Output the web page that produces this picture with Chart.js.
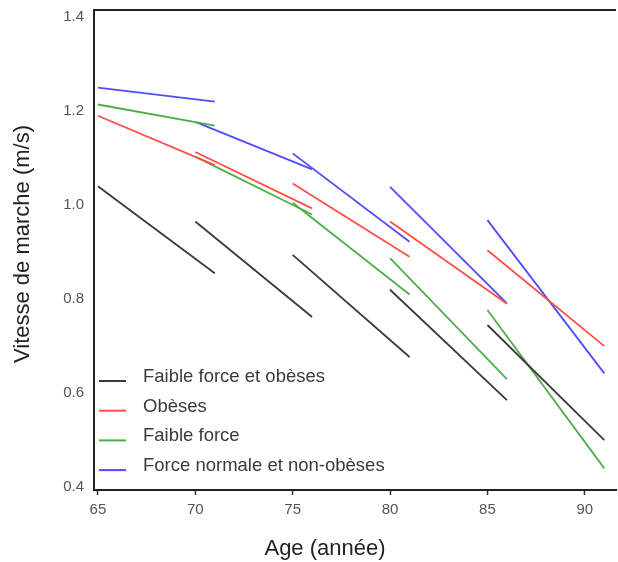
<!DOCTYPE html>
<html><head><meta charset="utf-8">
<script src="https://cdn.jsdelivr.net/npm/chart.js@4/dist/chart.umd.min.js"></script>
<style>html,body{margin:0;padding:0;background:#fff}#wrap{width:618px;height:562px}</style>
</head><body><div id="wrap"><canvas id="c" width="618" height="562"></canvas></div>
<script>
// Segment start / end ages
const startAges = [65, 70, 75, 80, 85];
const endAges = [71, 76, 81, 86, 91];
const seriesNames = ["Faible force et obèses", "Obèses", "Faible force", "Force normale et non-obèses"];
// Walking speed (m/s) at segment start / end
const faibleForceObesesStart = [1.04, 0.965, 0.894, 0.82, 0.745];
const faibleForceObesesEnd   = [0.855, 0.762, 0.677, 0.585, 0.50];
const obesesStart = [1.19, 1.113, 1.046, 0.965, 0.904];
const obesesEnd   = [1.085, 0.993, 0.89, 0.79, 0.70];
const faibleForceStart = [1.214, 1.103, 1.005, 0.887, 0.777];
const faibleForceEnd   = [1.169, 0.98, 0.81, 0.63, 0.44];
const normaleStart = [1.25, 1.177, 1.11, 1.039, 0.968];
const normaleEnd   = [1.22, 1.076, 0.922, 0.791, 0.642];
const xTicks = [65, 70, 75, 80, 85, 90];
const yTicks = [0.4, 0.6, 0.8, 1.0, 1.2, 1.4];
const xTitle = "Age (année)";
const yTitle = "Vitesse de marche (m/s)";

const colors = ["#3a3a3a", "#ff4f45", "#4fae4a", "#4d4dff"];
const series = [
  [faibleForceObesesStart, faibleForceObesesEnd],
  [obesesStart, obesesEnd],
  [faibleForceStart, faibleForceEnd],
  [normaleStart, normaleEnd]
];
const FONT = "'Liberation Sans', Arial, sans-serif";

const datasets = [];
series.forEach((s, si) => {
  startAges.forEach((a, i) => {
    datasets.push({
      label: seriesNames[si],
      data: [{x: a, y: s[0][i]}, {x: endAges[i], y: s[1][i]}],
      borderColor: colors[si],
      backgroundColor: colors[si],
      borderWidth: 1.8,
      pointRadius: 0,
      showLine: true,
      fill: false
    });
  });
});

const extras = {
  id: 'extras',
  afterDraw(chart) {
    const ctx = chart.ctx, ca = chart.chartArea;
    ctx.save();
    // top frame line
    ctx.strokeStyle = '#222'; ctx.lineWidth = 2;
    ctx.beginPath(); ctx.moveTo(ca.left - 1, ca.top); ctx.lineTo(ca.right, ca.top); ctx.stroke();
    // legend
    ctx.font = '18.5px ' + FONT;
    ctx.textBaseline = 'middle'; ctx.textAlign = 'left';
    seriesNames.forEach((n, i) => {
      const y = 381 + i * 29.7;
      ctx.strokeStyle = colors[i]; ctx.lineWidth = 2;
      ctx.beginPath(); ctx.moveTo(99, y); ctx.lineTo(126, y); ctx.stroke();
      ctx.fillStyle = '#3a3a3a';
      ctx.fillText(n, 143, y - 4);
    });
    // axis titles
    ctx.fillStyle = '#222';
    ctx.font = '22px ' + FONT;
    ctx.textAlign = 'center'; ctx.textBaseline = 'middle';
    ctx.fillText(xTitle, 325, 549);
    ctx.translate(23, 244); ctx.rotate(-Math.PI / 2);
    ctx.fillText(yTitle, 0, 0);
    ctx.restore();
  }
};

new Chart(document.getElementById('c'), {
  type: 'scatter',
  data: { datasets },
  plugins: [extras],
  options: {
    responsive: false,
    animation: false,
    layout: { padding: { left: 0, right: 2, top: 10, bottom: 0 } },
    plugins: { legend: { display: false }, tooltip: { enabled: false } },
    scales: {
      x: {
        type: 'linear', min: 64.8, max: 91.6,
        afterBuildTicks: s => { s.ticks = xTicks.map(v => ({value: v})); },
        afterFit: s => { s.height = 72; s.paddingLeft = 0; s.paddingRight = 0; },
        grid: { display: true, drawOnChartArea: false, drawTicks: true, tickLength: 5, color: '#333', tickWidth: 1.5 },
        border: { display: true, color: '#222', width: 2 },
        ticks: { font: { family: FONT, size: 15 }, color: '#555', padding: 6, maxRotation: 0 }
      },
      y: {
        type: 'linear', min: 0.394, max: 1.415,
        afterBuildTicks: s => { s.ticks = yTicks.map(v => ({value: v})); },
        afterFit: s => { s.width = 94; s.paddingTop = 0; s.paddingBottom = 0; },
        grid: { display: true, drawOnChartArea: false, drawTicks: false },
        border: { display: true, color: '#222', width: 2 },
        ticks: { font: { family: FONT, size: 15 }, color: '#555', padding: 10, callback: v => v.toFixed(1) }
      }
    }
  }
});
</script></body></html>
